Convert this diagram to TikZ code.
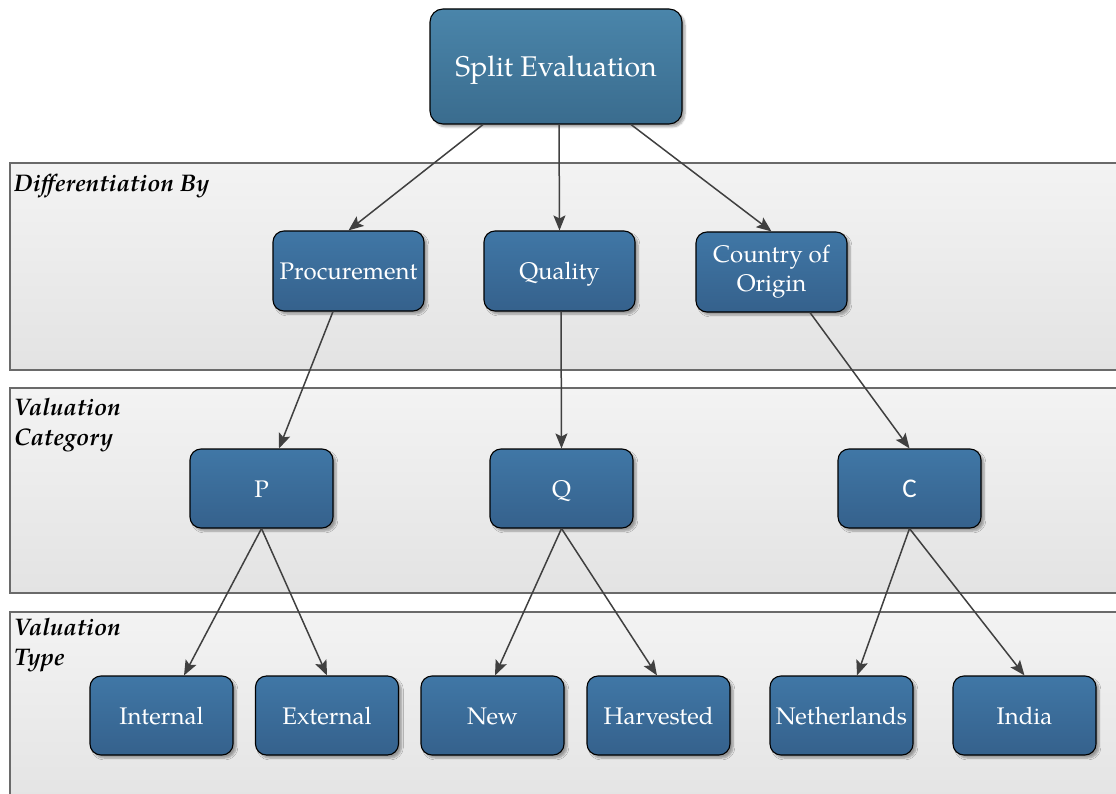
\documentclass[tikz,border=0pt]{standalone}
\usepackage{fontspec}
\setmainfont{TeX Gyre Pagella}
\newfontfamily\labelsans{Carlito}
\usetikzlibrary{arrows.meta,shadows.blur}

\definecolor{boxtop}{HTML}{4077A6}
\definecolor{boxbot}{HTML}{35618C}
\definecolor{roottop}{HTML}{4A85AA}
\definecolor{rootbot}{HTML}{3A6C8E}
\definecolor{bandtop}{HTML}{F3F3F3}
\definecolor{bandbot}{HTML}{E3E3E3}
\definecolor{bandline}{HTML}{6A6A6A}
\definecolor{wire}{HTML}{404040}

\tikzset{
  band/.style={draw=bandline, line width=1.4pt, top color=bandtop, bottom color=bandbot},
  bandlabel/.style={anchor=north west, inner sep=0pt, align=left,
    font=\fontsize{24}{30}\selectfont\bfseries\itshape},
  boxnode/.style={draw=black, line width=1.1pt, rounded corners=11pt,
    top color=boxtop, bottom color=boxbot, text=white,
    minimum width=143pt, minimum height=79pt, inner sep=2pt, align=center,
    text height=17pt, text depth=0pt,
    font=\fontsize{24}{29}\selectfont,
    blur shadow={shadow xshift=3pt, shadow yshift=-3pt, shadow blur steps=6, shadow opacity=35}},
  rootnode/.style={boxnode, top color=roottop, bottom color=rootbot,
    minimum width=252pt, minimum height=115pt, rounded corners=13pt,
    text height=20pt, font=\fontsize{28.5}{34}\selectfont},
  wide/.style={minimum width=151pt, minimum height=80pt},
  twoline/.style={text height=, text depth=},
  link/.style={draw=wire, line width=1.5pt,
    -{Stealth[length=15pt, width=12pt, inset=3pt]}}
}

\begin{document}
\begin{tikzpicture}[x=1pt, y=-1pt]
  \useasboundingbox (0,0) rectangle (1116,794);

  % horizontal bands
  \path[band] (10,163) rectangle (1130,370);
  \path[band] (10,388) rectangle (1130,593);
  \path[band] (10,612) rectangle (1130,810);

  \node[bandlabel] (lab1) at (14,174) {Differentiation By};
  \node[bandlabel] (lab2) at (14,398) {Valuation\\Category};
  \node[bandlabel] (lab3) at (14,618) {Valuation\\Type};

  % root
  \node[rootnode] (split) at (556,66.5) {Split Evaluation};

  % differentiation level
  \node[boxnode, wide] (proc) at (348.5,271) {Procurement};
  \node[boxnode, wide] (qual) at (559.5,271) {Quality};
  \node[boxnode, wide, twoline] (coo) at (771.5,272) {Country of\\Origin};

  % valuation categories
  \node[boxnode] (catp) at (261.5,488.5) {P};
  \node[boxnode] (catq) at (561.5,488.5) {Q};
  \node[boxnode] (catc) at (909.5,488.5) {\labelsans\fontsize{27}{29}\selectfont C};

  % valuation types
  \node[boxnode] (internal) at (161.5,715.5) {Internal};
  \node[boxnode] (external) at (327,715.5) {External};
  \node[boxnode] (new)      at (492.5,715.5) {New};
  \node[boxnode] (harv)     at (658.5,715.5) {Harvested};
  \node[boxnode] (neth)     at (841.5,715.5) {Netherlands};
  \node[boxnode] (india)    at (1024.5,715.5) {India};

  % connectors
  \draw[link] ([xshift=-73pt]split.south) -- (proc.north);
  \draw[link] ([xshift=3pt]split.south) -- (qual.north);
  \draw[link] ([xshift=75pt]split.south) -- (coo.north);

  \draw[link] ([xshift=-15.5pt]proc.south) -- ([xshift=17.5pt]catp.north);
  \draw[link] ([xshift=1.5pt]qual.south) -- (catq.north);
  \draw[link] ([xshift=38.5pt]coo.south) -- (catc.north);

  \draw[link] (catp.south) -- ([xshift=22.5pt]internal.north);
  \draw[link] (catp.south) -- (external.north);
  \draw[link] (catq.south) -- ([xshift=2.5pt]new.north);
  \draw[link] (catq.south) -- ([xshift=-1.5pt]harv.north);
  \draw[link] (catc.south) -- ([xshift=15.5pt]neth.north);
  \draw[link] (catc.south) -- (india.north);
\end{tikzpicture}
\end{document}
